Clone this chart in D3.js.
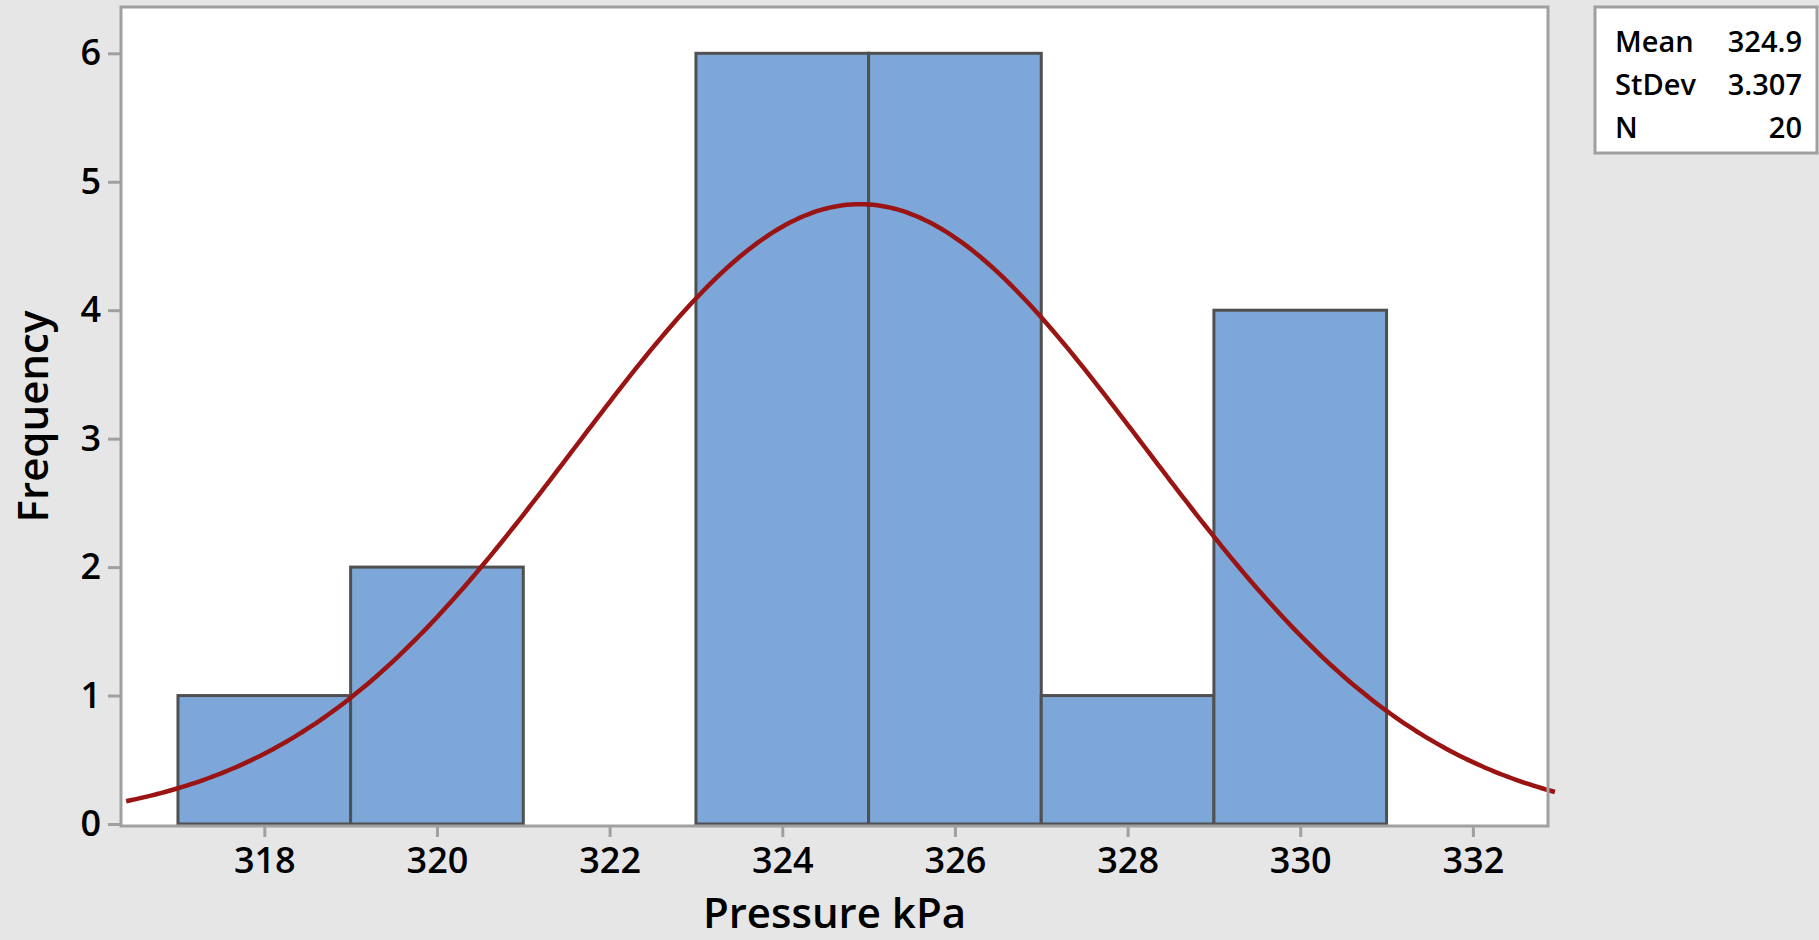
<!DOCTYPE html>
<html>
<head>
<meta charset="utf-8">
<script src="https://cdn.jsdelivr.net/npm/d3@7"></script>
<style>
  body { margin: 0; background: #e6e6e6; }
  text { font-family: "Open Sans", "Noto Sans", sans-serif; fill: #000; }
</style>
</head>
<body>
<script>
// histogram bins (kPa) and counts
const binEdges = [317, 319, 321, 323, 325, 327, 329, 331];
const counts = [1, 2, 0, 6, 6, 1, 4];
const xTicks = [318, 320, 322, 324, 326, 328, 330, 332];
const yTicks = [0, 1, 2, 3, 4, 5, 6];
const statLabels = ["Mean", "StDev", "N"];
const statValues = ["324.9", "3.307", "20"];

function init() {
  const W = 1819, H = 940;
  const left = 121, right = 1548, top = 7, bottom = 826;

  const svg = d3.select("body").append("svg")
    .attr("width", W)
    .attr("height", H)
    .style("display", "block");

  svg.append("rect").attr("width", W).attr("height", H).attr("fill", "#e6e6e6");

  const x = d3.scaleLinear().domain([316.34, 332.87]).range([left, right]);
  const y = d3.scaleLinear().domain([0, 6]).range([824, 53.3]);

  // plot background
  svg.append("rect")
    .attr("x", left).attr("y", top)
    .attr("width", right - left).attr("height", bottom - top)
    .attr("fill", "#fff");

  let bins = counts.map((c, i) => ({ x0: binEdges[i], x1: binEdges[i + 1], n: c }));

  svg.selectAll(".bar")
    .data(bins)
    .enter()
      .append("rect")
        .attr("class", "bar")
        .attr("x", d => x(d.x0))
        .attr("y", d => y(d.n))
        .attr("width", d => x(d.x1) - x(d.x0))
        .attr("height", d => y(0) - y(d.n))
        .attr("fill", "#7da7d9")
        .attr("stroke", "#505050")
        .attr("stroke-width", 3)
    ;

  // fitted normal curve from the stats shown in the box
  const mean = +statValues[0], sd = +statValues[1], n = +statValues[2];
  const bw = binEdges[1] - binEdges[0];
  const curve = d3.range(316.4, 332.96, 0.05).map(v => [v,
    n * bw / (sd * Math.sqrt(2 * Math.PI)) * Math.exp(-0.5 * ((v - mean) / sd) ** 2)]);

  svg.append("path")
    .datum(curve)
    .attr("fill", "none")
    .attr("stroke", "#9b1414")
    .attr("stroke-width", 4.5)
    .attr("d", d3.line().x(d => x(d[0])).y(d => y(d[1])));

  // frame
  svg.append("rect")
    .attr("x", left).attr("y", top)
    .attr("width", right - left).attr("height", bottom - top)
    .attr("fill", "none")
    .attr("stroke", "#a0a0a0")
    .attr("stroke-width", 3);

  // x axis
  const xAxis = svg.append("g").attr("transform", `translate(0,${bottom})`)
    .call(d3.axisBottom(x).tickValues(xTicks).tickSize(11).tickPadding(10).tickFormat(d3.format("d")));
  xAxis.select(".domain").remove();
  xAxis.selectAll("line").attr("stroke", "#a0a0a0").attr("stroke-width", 3);
  xAxis.selectAll("text").style("font-size", "36px").style("font-weight", 600);

  // y axis
  const yAxis = svg.append("g").attr("transform", `translate(${left},0)`)
    .call(d3.axisLeft(y).tickValues(yTicks).tickSize(13).tickPadding(7).tickFormat(d3.format("d")));
  yAxis.select(".domain").remove();
  yAxis.selectAll("line").attr("stroke", "#a0a0a0").attr("stroke-width", 3);
  yAxis.selectAll("text").style("font-size", "36px").style("font-weight", 600);

  // axis titles
  svg.append("text")
    .attr("x", (left + right) / 2).attr("y", 928)
    .attr("text-anchor", "middle")
    .style("font-size", "42px").style("font-weight", 600)
    .text("Pressure kPa");

  svg.append("text")
    .attr("transform", `translate(48,${(top + bottom) / 2}) rotate(-90)`)
    .attr("text-anchor", "middle")
    .style("font-size", "42px").style("font-weight", 600)
    .text("Frequency");

  // stats box
  svg.append("rect")
    .attr("x", 1595).attr("y", 7)
    .attr("width", 222).attr("height", 146)
    .attr("fill", "#fff")
    .attr("stroke", "#a0a0a0")
    .attr("stroke-width", 3);

  statLabels.forEach((lab, i) => {
    svg.append("text")
      .attr("x", 1615).attr("y", 52 + i * 43)
      .style("font-size", "29px").style("font-weight", 600)
      .text(lab);
    svg.append("text")
      .attr("x", 1802).attr("y", 52 + i * 43)
      .attr("text-anchor", "end")
      .style("font-size", "29px").style("font-weight", 600)
      .text(statValues[i]);
  });
}

init();
</script>
</body>
</html>
